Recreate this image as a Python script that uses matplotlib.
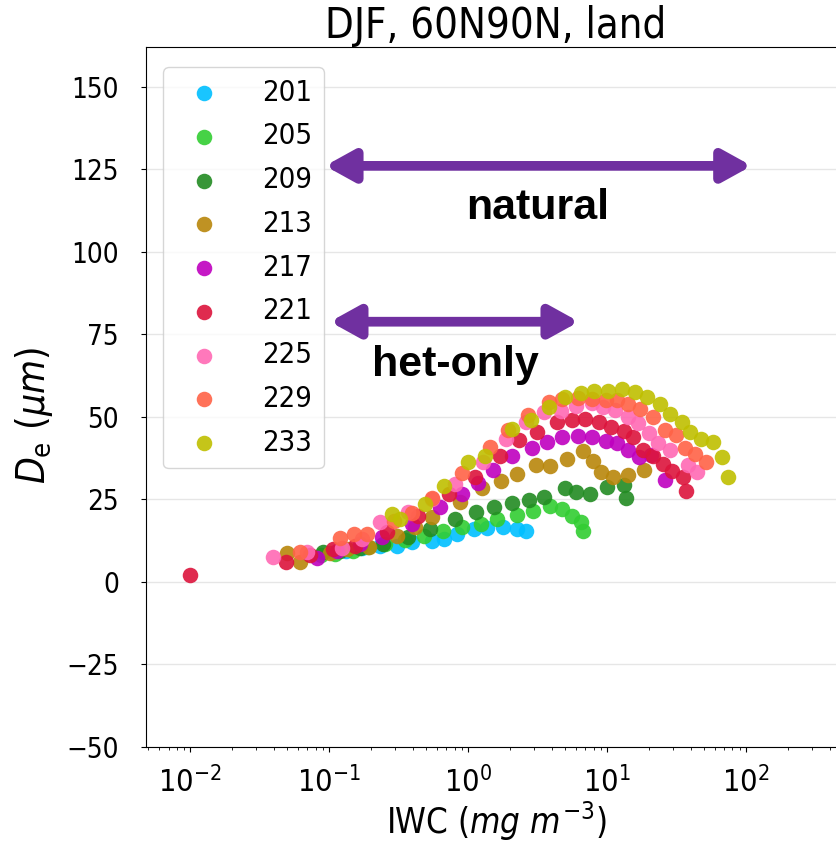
import matplotlib
matplotlib.use("Agg")
import matplotlib.pyplot as plt
import numpy as np

plt.rcParams['font.family'] = ['DejaVu Sans']
plt.rcParams['font.stretch'] = 'condensed'

# temperature bins (K) and colours
temps = ['201', '205', '209', '213', '217', '221', '225', '229', '233']
colors = ['deepskyblue', 'limegreen', 'forestgreen', 'darkgoldenrod', 'm',
          'crimson', 'hotpink', 'tomato', 'y']

# log10 of IWC (mg m-3) and De (um) for each temperature bin
logiwc_201 = [-0.88, -0.76, -0.63, -0.51, -0.40, -0.26, -0.17, -0.08, 0.04, 0.14, 0.25, 0.35, 0.42]
de_201 = [9.5, 10.3, 10.9, 10.9, 12.1, 12.4, 13.0, 14.5, 16.0, 16.4, 16.7, 16.1, 15.5]

logiwc_205 = [-1.06, -0.96, -0.83, -0.72, -0.60, -0.45, -0.32, -0.18, -0.04, 0.09, 0.21, 0.35,
              0.47, 0.59, 0.68, 0.75, 0.81, 0.83]
de_205 = [8.0, 8.5, 9.4, 10.5, 11.5, 12.7, 13.9, 15.5, 16.7, 17.6, 19.1, 20.3,
          21.5, 23.0, 22.1, 19.9, 18.2, 15.5]

logiwc_209 = [-1.04, -0.92, -0.78, -0.61, -0.43, -0.27, -0.09, 0.06, 0.19, 0.32, 0.44, 0.55,
              0.70, 0.78, 0.88, 1.00, 1.12, 1.14]
de_209 = [9.1, 9.5, 10.3, 11.5, 13.6, 16.0, 19.1, 21.2, 22.7, 24.0, 24.8, 25.8,
          28.5, 27.3, 26.7, 28.8, 29.4, 25.5]

logiwc_213 = [-1.30, -1.21, -0.99, -0.87, -0.71, -0.51, -0.38, -0.26, -0.06, 0.10, 0.24, 0.35,
              0.49, 0.59, 0.71, 0.83, 0.90, 0.96, 1.04, 1.15, 1.27]
de_213 = [8.8, 6.1, 8.8, 10.0, 10.6, 13.9, 16.7, 19.7, 24.2, 28.5, 30.6, 32.7,
          35.5, 35.2, 37.3, 39.7, 36.7, 33.3, 31.8, 32.4, 33.9]

logiwc_217 = [-1.09, -0.94, -0.78, -0.62, -0.40, -0.20, -0.04, 0.07, 0.18, 0.32, 0.46, 0.57,
              0.68, 0.79, 0.89, 0.99, 1.07, 1.15, 1.23, 1.32, 1.42]
de_217 = [7.3, 9.5, 11.5, 13.6, 17.6, 22.7, 26.7, 30.0, 33.9, 38.0, 40.6, 42.4,
          44.0, 44.2, 44.0, 42.7, 42.1, 40.0, 37.9, 38.5, 31.0]

logiwc_221 = [-2.00, -1.31, -1.14, -0.97, -0.81, -0.58, -0.36, -0.14, 0.05, 0.23, 0.37, 0.50,
              0.64, 0.75, 0.84, 0.94, 1.03, 1.12, 1.19, 1.26, 1.33, 1.40, 1.47, 1.55, 1.57]
de_221 = [2.1, 6.1, 8.0, 10.0, 10.9, 15.2, 20.0, 26.7, 31.8, 38.2, 43.0, 45.5,
          48.5, 49.1, 49.4, 48.5, 47.0, 45.8, 44.0, 40.0, 38.2, 35.8, 33.6, 31.8, 27.6]

logiwc_225 = [-1.40, -1.16, -0.91, -0.76, -0.63, -0.43, -0.26, -0.09, 0.11, 0.27, 0.42, 0.55,
              0.67, 0.78, 0.89, 0.97, 1.06, 1.15, 1.22, 1.30, 1.37, 1.45, 1.58, 1.65]
de_225 = [7.6, 9.1, 10.3, 13.0, 18.2, 21.2, 25.0, 29.7, 36.4, 43.3, 48.5, 51.5,
          51.8, 53.3, 54.2, 53.0, 52.1, 50.0, 48.2, 45.2, 42.0, 40.0, 35.5, 33.3]

logiwc_229 = [-1.21, -0.92, -0.82, -0.73, -0.53, -0.40, -0.26, -0.04, 0.16, 0.29, 0.43, 0.58,
              0.68, 0.79, 0.89, 0.99, 1.07, 1.15, 1.24, 1.33, 1.42, 1.50, 1.56, 1.63, 1.71]
de_229 = [9.0, 13.3, 14.5, 14.5, 18.5, 21.0, 25.5, 33.0, 41.0, 46.0, 50.6, 54.5,
          55.5, 55.8, 55.5, 55.2, 55.0, 53.9, 52.4, 50.0, 46.0, 44.5, 40.6, 38.8, 36.4]

logiwc_233 = [-0.55, -0.49, -0.31, -0.17, 0.00, 0.12, 0.32, 0.45, 0.58, 0.70, 0.81, 0.91,
              1.01, 1.11, 1.20, 1.29, 1.38, 1.45, 1.54, 1.60, 1.68, 1.76, 1.83, 1.87]
de_233 = [20.6, 19.1, 23.6, 29.0, 36.4, 38.2, 46.4, 49.1, 53.0, 56.1, 57.3, 57.9,
          57.9, 58.5, 57.6, 56.1, 53.9, 50.9, 48.5, 45.5, 43.3, 42.4, 37.9, 31.8]

all_logiwc = [logiwc_201, logiwc_205, logiwc_209, logiwc_213, logiwc_217,
              logiwc_221, logiwc_225, logiwc_229, logiwc_233]
all_de = [de_201, de_205, de_209, de_213, de_217, de_221, de_225, de_229, de_233]

# IWC ranges shown by the arrows
natural_range = [0.0936, 110.0]
het_range = [0.1016, 6.29]
natural_de = 126
het_de = 78.8

fig = plt.figure(figsize=(8.36, 8.43), dpi=100)
ax = fig.add_axes([146 / 836, 96 / 843, 700 / 836, 700 / 843])

for t, c, lx, d in zip(temps, colors, all_logiwc, all_de):
    ax.scatter(10 ** np.array(lx), d, s=125, color=c, alpha=0.9, linewidths=0, label=t)

ax.set_xscale('log')
ax.set_xlim(10 ** -2.317, 10 ** 2.72)
ax.set_ylim(-50, 162)
ax.set_yticks([-50, -25, 0, 25, 50, 75, 100, 125, 150])
ax.yaxis.grid(True, color='#e6e6e6', lw=1)
ax.set_axisbelow(True)
ax.tick_params(axis='y', labelsize=20, pad=16)
ax.tick_params(axis='x', which='major', labelsize=22, pad=10)

ax.set_title('DJF, 60N90N, land', fontsize=30, pad=3)
ax.set_xlabel(r'IWC ($mg\ m^{-3}$)', fontsize=25, labelpad=1)
ax.set_ylabel(r'$D_\mathrm{e}\ (\mu m)$', fontsize=28)
ax.yaxis.set_label_coords(-0.13, 0.474)

leg = ax.legend(loc='upper left', bbox_to_anchor=(17 / 700, 1 - 20 / 700), borderaxespad=0,
                fontsize=21, labelspacing=0.54, handletextpad=1.0, handlelength=2.0,
                borderpad=0.4, scatterpoints=1)
leg.get_frame().set_edgecolor('#cccccc')

purple = '#7030A0'
ax.annotate('', xy=(natural_range[1], natural_de), xytext=(natural_range[0], natural_de),
            arrowprops=dict(arrowstyle='<|-|>,head_length=0.85,head_width=0.47', lw=7,
                            color=purple, mutation_scale=20, shrinkA=0, shrinkB=0))
ax.annotate('', xy=(het_range[1], het_de), xytext=(het_range[0], het_de),
            arrowprops=dict(arrowstyle='<|-|>,head_length=0.85,head_width=0.47', lw=7,
                            color=purple, mutation_scale=20, shrinkA=0, shrinkB=0))
ax.text(3.19, 110, 'natural', ha='center', va='baseline', fontsize=31, fontweight='bold',
        family='Liberation Sans', fontstretch='normal')
ax.text(0.806, 62.4, 'het-only', ha='center', va='baseline', fontsize=31, fontweight='bold',
        family='Liberation Sans', fontstretch='normal')

fig.savefig('out.png', dpi=100)
